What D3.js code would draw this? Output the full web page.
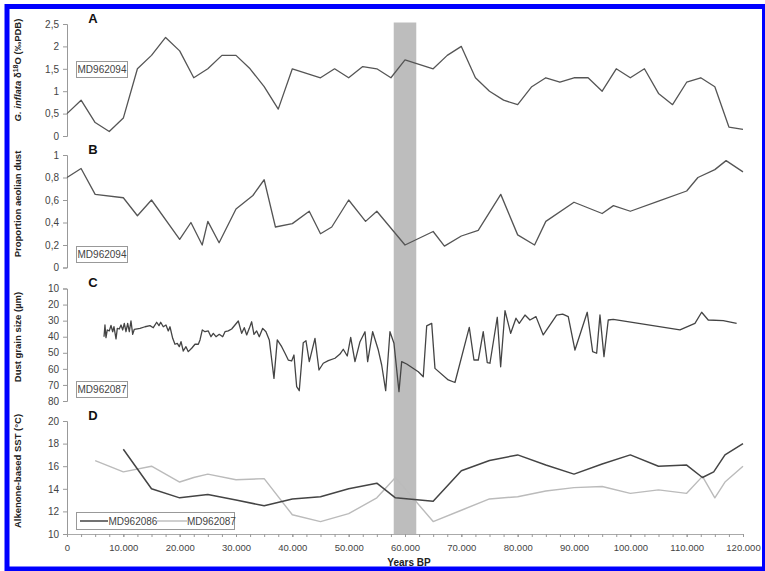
<!DOCTYPE html>
<html><head><meta charset="utf-8">
<script src="https://cdn.jsdelivr.net/npm/d3@7"></script>
<style>body{margin:0;background:#fff}svg{display:block;font-family:"Liberation Sans",Arial,sans-serif}</style>
</head><body><svg id="c" width="765" height="571"></svg>
<script>
// ---- data ----
const yearsA = [0,2500,5000,7500,10000,12500,15000,17500,20000,22500,25000,27500,30000,32500,35000,37500,40000,42500,45000,47500,50000,52500,55000,57500,60000,62500,65000,67500,70000,72500,75000,77500,80000,82500,85000,87500,90000,92500,95000,97500,100000,102500,105000,107500,110000,112500,115000,117500,120000];
const d18O = [0.5,0.8,0.3,0.1,0.4,1.5,1.8,2.2,1.9,1.3,1.5,1.8,1.8,1.5,1.1,0.6,1.5,1.4,1.3,1.5,1.3,1.55,1.5,1.3,1.7,1.6,1.5,1.8,2.0,1.3,1.0,0.8,0.7,1.1,1.3,1.2,1.3,1.3,1.0,1.5,1.3,1.5,0.95,0.7,1.2,1.3,1.1,0.2,0.15];

const yearsB = [0,2500,5000,10000,12500,15000,20000,22000,24000,25000,27000,30000,33000,35000,37000,40000,43000,45000,47000,50000,53000,55000,60000,65000,67000,70000,73000,77000,80000,83000,85000,90000,95000,97000,100000,105000,110000,112000,115000,117000,120000];
const aeolian = [0.8,0.88,0.65,0.62,0.46,0.6,0.25,0.4,0.2,0.41,0.22,0.52,0.64,0.78,0.36,0.39,0.5,0.3,0.36,0.6,0.41,0.5,0.2,0.32,0.19,0.28,0.33,0.65,0.29,0.2,0.41,0.58,0.48,0.55,0.5,0.59,0.68,0.8,0.87,0.95,0.85];

const yearsC = [6570,6740,6920,7150,7510,7810,8110,8340,8700,8930,9280,9590,9890,10170,10470,10770,11060,11360,11660,11950,12960,13850,14730,15320,15920,16330,16630,17090,17570,17980,18280,18760,19170,19580,19930,20240,20640,21120,21530,22130,22720,23310,23610,24020,24500,25080,25560,25970,26450,27030,27640,28050,28630,29230,29820,30410,31010,31470,31900,32360,32780,33190,33670,34130,34740,35320,35910,36740,37330,38110,38700,39280,39880,40290,40770,41230,41940,42420,43010,44020,44730,45490,46380,47570,48460,49040,49750,50360,51120,52010,52900,53370,54260,55260,55860,56570,57330,58040,58930,59410,60300,62360,63240,63850,64740,65320,67680,68870,71410,72240,73010,73890,74600,75080,76380,76980,77750,78760,79700,80280,81300,82180,83250,84540,86920,87990,88980,90170,92350,93310,94020,94610,95320,96080,96970,108810,111470,112660,113830,116490,118870];
const grainSize = [40,32.7,40.6,35.8,36.4,33,36.9,33.8,41.4,34.8,35.2,32.7,35.8,31.7,36.9,31.7,36.9,30.2,38.5,35.4,34.8,33.8,33.1,34.4,31,33.1,31,33.8,32.7,36.4,33.8,41,44.7,44.1,46.2,43.1,48.9,46.2,49.3,47.2,44.7,44.7,42,35.8,36.9,36.4,40,37.9,40,38.5,40,36.9,36.4,35.2,32.7,30.2,37.9,34.4,38.9,34.8,30.7,38.5,36.4,40,34.8,36.9,42,65.9,42,46.2,50.3,54.5,55.1,51.4,71.1,73.6,43.7,42.5,55.5,41,60.7,56.5,54.9,53.4,50.8,47.8,52,40.4,55.5,43.1,36.9,55.5,36.9,48.3,57.6,73.6,36.9,44.1,74.2,55.5,57,61.8,64.9,33.3,31.7,59.7,66.9,68.5,34.2,54.5,54.5,36.9,56.1,56.5,27.9,58.7,23.8,37.9,28.5,31.7,26.5,29.6,27.5,38.9,26.5,25.9,27.5,48.3,24.8,49.3,50.3,26.5,52.4,29.6,29.2,35.8,31.7,24.8,29.6,30,31.7];

const yearsD86 = [10000,15000,20000,25000,30000,35000,40000,45000,50000,55000,58300,65000,70000,75000,80000,85000,90000,95000,100000,105000,110000,112800,114800,116800,120000];
const sst86 = [17.5,14.0,13.2,13.5,13.0,12.5,13.1,13.3,14.0,14.5,13.2,12.9,15.6,16.5,17.0,16.1,15.3,16.2,17.0,16.0,16.1,15.0,15.5,17.0,18.0];
const yearsD87 = [5000,10000,15000,20000,22500,25000,30000,35000,40000,45000,50000,55000,58300,65000,70000,75000,80000,85000,90000,95000,100000,105000,110000,112800,115000,116800,120000];
const sst87 = [16.5,15.5,16.0,14.6,15.0,15.3,14.8,14.9,11.7,11.1,11.8,13.2,15.0,11.1,12.1,13.1,13.3,13.8,14.1,14.2,13.6,13.9,13.6,15.1,13.2,14.6,16.0];

const xTicks = [0,10000,20000,30000,40000,50000,60000,70000,80000,90000,100000,110000,120000];
const xTickLabels = ["0","10.000","20.000","30.000","40.000","50.000","60.000","70.000","80.000","90.000","100.000","110.000","120.000"];
const ticksA = [0,0.5,1,1.5,2,2.5], tickLabelsA = ["0","0,5","1","1,5","2","2,5"];
const ticksB = [0,0.2,0.4,0.6,0.8,1], tickLabelsB = ["0","0,2","0,4","0,6","0,8","1"];
const ticksC = [10,20,30,40,50,60,70,80], tickLabelsC = ["10","20","30","40","50","60","70","80"];
const ticksD = [10,12,14,16,18,20], tickLabelsD = ["10","12","14","16","18","20"];
const band = [58000, 62000];

// ---- drawing ----
const svg = d3.select("#c");
const x = d3.scaleLinear().domain([0,120000]).range([67,743]);
const yA = d3.scaleLinear().domain([0,2.5]).range([136,24]);
const yB = d3.scaleLinear().domain([0,1]).range([267.5,155]);
const yC = d3.scaleLinear().domain([10,80]).range([288.5,401]);
const yD = d3.scaleLinear().domain([10,20]).range([534,421]);

// grey band
svg.append("rect").attr("x", x(band[0])).attr("y", 22.5)
  .attr("width", x(band[1]) - x(band[0])).attr("height", yD(10) - 22.5)
  .attr("fill", "#bdbdbd");

function yAxis(scale, ticks, labels) {
  const g = svg.append("g").attr("transform", "translate(67,0)")
    .call(d3.axisLeft(scale).tickValues(ticks).tickFormat((d,i)=>labels[i]).tickSizeOuter(0).tickSize(4).tickPadding(4));
  g.select(".domain").attr("stroke", "#999");
  g.selectAll(".tick line").attr("stroke", "#999");
  g.selectAll("text").attr("fill", "#444").style("font-size", "10px");
}
yAxis(yA, ticksA, tickLabelsA);
yAxis(yB, ticksB, tickLabelsB);
yAxis(yC, ticksC, tickLabelsC);
yAxis(yD, ticksD, tickLabelsD);

// x axis
const minor = d3.range(0, 120001, 2500);
const gxm = svg.append("g").attr("transform", `translate(0,${yD(10)})`)
  .call(d3.axisBottom(x).tickValues(minor).tickFormat("").tickSize(3).tickSizeOuter(0));
gxm.select(".domain").attr("stroke", "#aaa");
gxm.selectAll(".tick line").attr("stroke", "#999");
const gx = svg.append("g").attr("transform", `translate(0,${yD(10)})`)
  .call(d3.axisBottom(x).tickValues(xTicks).tickFormat((d,i)=>xTickLabels[i]).tickSize(3).tickPadding(7).tickSizeOuter(0));
gx.select(".domain").remove();
gx.selectAll(".tick line").attr("stroke", "#999");
gx.selectAll("text").attr("fill", "#444").style("font-size", "9.5px");

// lines
function line(xs, ys, scale, color, w) {
  const pts = xs.map((d,i)=>[d, ys[i]]);
  svg.append("path").datum(pts)
    .attr("d", d3.line().x(d=>x(d[0])).y(d=>scale(d[1])))
    .attr("fill", "none").attr("stroke", color).attr("stroke-width", w).attr("stroke-linejoin","round");
}
line(yearsA, d18O, yA, "#555", 1.3);
line(yearsB, aeolian, yB, "#555", 1.3);
line(yearsC, grainSize, yC, "#444", 1.3);
line(yearsD87, sst87, yD, "#bbb", 1.4);
line(yearsD86, sst86, yD, "#444", 1.5);

// panel letters
[["A",23],["B",154],["C",287],["D",420]].forEach(([t,yy])=>{
  svg.append("text").attr("x", 93).attr("y", yy).attr("text-anchor","middle")
    .style("font-size","13px").style("font-weight","bold").attr("fill","#111").text(t);
});

// series label boxes
function labelBox(x0, y0, w, h, txt) {
  svg.append("rect").attr("x", x0).attr("y", y0).attr("width", w).attr("height", h)
    .attr("fill", "#fff").attr("stroke", "#999").attr("stroke-width", 1);
  svg.append("text").attr("x", x0 + w/2).attr("y", y0 + h/2 + 3.5).attr("text-anchor","middle")
    .style("font-size","10px").attr("fill","#444").text(txt);
}
labelBox(76.5, 61.5, 51, 16, "MD962094");
labelBox(76.5, 246.5, 51, 16, "MD962094");
labelBox(76.5, 381.5, 51, 16, "MD962087");

// legend D
svg.append("rect").attr("x", 76.5).attr("y", 512.5).attr("width", 158).attr("height", 17)
  .attr("fill", "#fff").attr("stroke", "#999");
svg.append("line").attr("x1", 80).attr("x2", 108).attr("y1", 521).attr("y2", 521).attr("stroke", "#444").attr("stroke-width", 1.5);
svg.append("text").attr("x", 108.5).attr("y", 524.5).style("font-size","10px").attr("fill","#444").text("MD962086");
svg.append("line").attr("x1", 157).attr("x2", 187).attr("y1", 521).attr("y2", 521).attr("stroke", "#bbb").attr("stroke-width", 1.4);
svg.append("text").attr("x", 187).attr("y", 524.5).style("font-size","10px").attr("fill","#444").text("MD962087");

// axis titles
function yTitle(cy, build) {
  const t = svg.append("text").attr("transform", `translate(21,${cy}) rotate(-90)`)
    .attr("text-anchor","middle").style("font-size","9.5px").style("font-weight","bold").attr("fill","#222");
  build(t);
}
yTitle(70, t => {
  t.append("tspan").style("font-style","italic").text("G. inflata");
  t.append("tspan").text(" δ");
  t.append("tspan").attr("dy",-3).style("font-size","7px").text("18");
  t.append("tspan").attr("dy",3).text("O (‰PDB)");
});
yTitle(204, t => t.text("Proportion aeolian dust"));
yTitle(337, t => t.text("Dust grain size (µm)"));
yTitle(471, t => t.text("Alkenone-based SST (°C)"));
svg.append("text").attr("x", 409).attr("y", 566).attr("text-anchor","middle")
  .style("font-size","10px").style("font-weight","bold").attr("fill","#222").text("Years BP");

// blue frame
svg.append("rect").attr("x", 7).attr("y", 6.5).attr("width", 757.5).attr("height", 562.5)
  .attr("fill", "none").attr("stroke", "#0000ff").attr("stroke-width", 5);
</script></body></html>
